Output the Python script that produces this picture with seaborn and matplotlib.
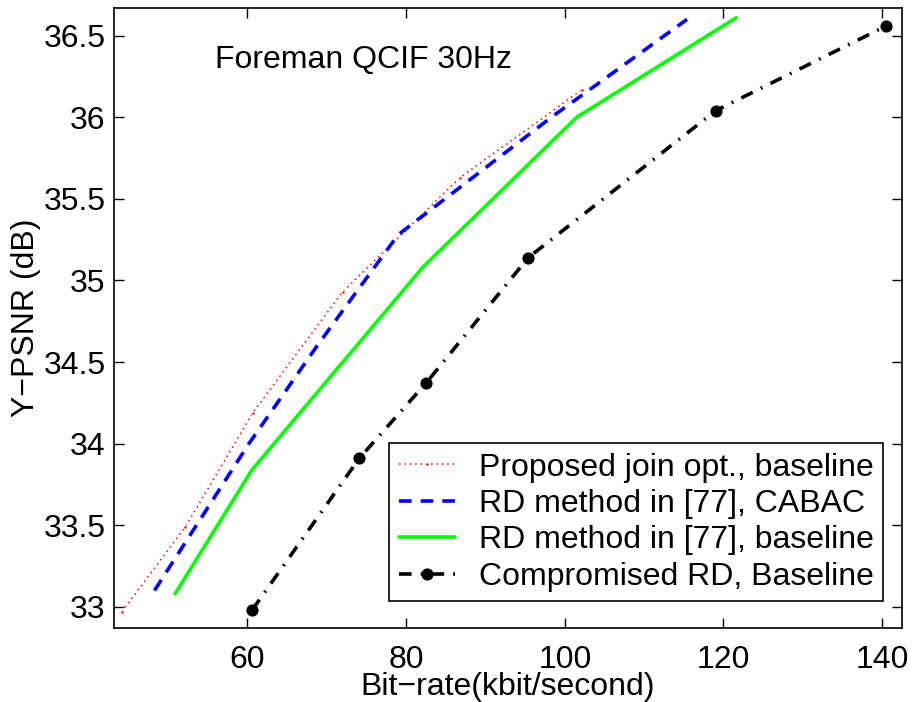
import numpy as np
import pandas as pd
import matplotlib
matplotlib.use("Agg")
import matplotlib.pyplot as plt
import seaborn as sns

# values (bit-rate kbit/s, Y-PSNR dB)
prop_rate = [44.2, 52.2, 60.7, 72.0, 86.8, 102.2]
prop_psnr = [32.97, 33.49, 34.19, 34.93, 35.63, 36.17]

cabac_rate = [48.3, 60.2, 68.8, 79.0, 98.3, 115.4]
cabac_psnr = [33.10, 34.00, 34.60, 35.28, 36.00, 36.60]

base_rate = [50.9, 60.6, 82.1, 101.5, 121.6]
base_psnr = [33.08, 33.84, 35.08, 36.00, 36.61]

comp_rate = [60.6, 74.1, 82.5, 95.4, 119.0, 140.5]
comp_psnr = [32.98, 33.91, 34.37, 35.14, 36.04, 36.56]

labels = ["Proposed join opt., baseline", "RD method in [77], CABAC",
          "RD method in [77], baseline", "Compromised RD, Baseline"]
x_ticks = [60, 80, 100, 120, 140]
y_ticks = [33, 33.5, 34, 34.5, 35, 35.5, 36, 36.5]

sns.set_style("ticks")
plt.rcParams['font.family'] = ['Liberation Sans', 'DejaVu Sans']
plt.rcParams['axes.unicode_minus'] = True
plt.rcParams['text.color'] = 'black'
plt.rcParams['axes.labelcolor'] = 'black'

fs = 23

fig = plt.figure(figsize=(9.13, 7.02), dpi=100)
ax = fig.add_axes([0.1249, 0.1054, 0.8631, 0.8832])

sns.lineplot(x=prop_rate, y=prop_psnr, ax=ax, color='#ff0000', lw=1.1,
             linestyle=(0, (1, 2.5)), marker='.', markersize=5, label=labels[0], sort=False)
sns.lineplot(x=cabac_rate, y=cabac_psnr, ax=ax, color='#0000ff', lw=2.6,
             linestyle=(0, (3.5, 2.5)), label=labels[1], sort=False)
sns.lineplot(x=base_rate, y=base_psnr, ax=ax, color='#00ff00', lw=2.6,
             linestyle='-', label=labels[2], sort=False)
sns.lineplot(x=comp_rate, y=comp_psnr, ax=ax, color='black', lw=2.6,
             linestyle=(0, (3.5, 2.5, 0.5, 2.5)), marker='o', markersize=8,
             markeredgecolor='black', label=labels[3], sort=False)

ax.set_xlim(43.2, 142.5)
ax.set_ylim(32.87, 36.67)
ax.set_xticks(x_ticks)
ax.set_yticks(y_ticks)
ax.set_yticklabels([f"{v:g}" for v in y_ticks])
ax.tick_params(direction='in', length=7, width=1, top=True, right=True,
               labelsize=fs, colors='black', labelcolor='black')
ax.tick_params(axis='x', pad=12)
ax.tick_params(axis='y', pad=6)
for s in ax.spines.values():
    s.set_visible(True)
    s.set_color('black')
    s.set_linewidth(1.2)

ax.set_xlabel("Bit\u2212rate(kbit/second)", fontsize=fs, labelpad=-2)
ax.set_ylabel("Y\u2212PSNR (dB)", fontsize=fs, labelpad=2)
ax.text(55.96, 36.35, "Foreman QCIF 30Hz", fontsize=fs, va='center', ha='left')

leg = ax.legend(loc='lower right', bbox_to_anchor=(0.976, 0.043), fontsize=fs,
                frameon=True, fancybox=False, shadow=False, handlelength=1.75,
                labelspacing=0.2, borderpad=0.3, handletextpad=0.75, borderaxespad=0)
leg.get_frame().set_edgecolor('black')
leg.get_frame().set_linewidth(1.2)
leg.get_frame().set_alpha(1)

fig.savefig("out.png", dpi=100)
